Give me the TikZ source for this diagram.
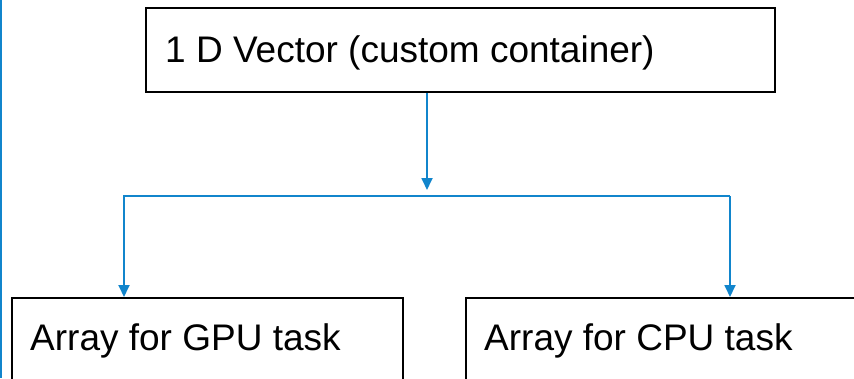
\documentclass[tikz,border=0pt]{standalone}
\usepackage{fontspec}
\setmainfont{Liberation Sans}
\usetikzlibrary{arrows.meta}
\definecolor{lineblue}{RGB}{17,133,204}
\begin{document}
\begin{tikzpicture}[x=1pt,y=-1pt,
  box/.style={draw=black,line width=2pt,inner sep=0pt,anchor=north west},
  lbl/.style={anchor=base west,font=\fontsize{37}{44}\selectfont,inner sep=0pt},
  conn/.style={draw=lineblue,line width=1.8pt},
  arr/.style={conn,-{Triangle[length=12pt,width=11pt]}}]
\useasboundingbox (0,0) rectangle (854,378);
\clip (0,0) rectangle (854,378);
\coordinate (edgetop) at (1,0);
\coordinate (edgebot) at (1,378);
\draw[lineblue,line width=2pt] (edgetop) -- (edgebot);
\node[box,minimum width=629pt,minimum height=84pt] (top) at (145,7) {};
\node[box,minimum width=391pt,minimum height=120pt] (gpu) at (11,297) {};
\node[box,minimum width=420pt,minimum height=120pt] (cpu) at (465,297) {};
\node[lbl] (ttop) at (165,62) {1 D Vector (custom container)};
\node[lbl] (tgpu) at (30,350) {Array for GPU task};
\node[lbl] (tcpu) at (484,350) {Array for CPU task};
\coordinate (jtip) at (427,190);
\coordinate (hl) at (124,196);
\coordinate (hr) at (730,196);
\draw[arr] (top.south -| jtip) -- (jtip);
\draw[arr,line join=miter] (hr) -- (hl) -- (gpu.north -| hl);
\draw[arr] (hr) -- (cpu.north -| hr);
\end{tikzpicture}
\end{document}
